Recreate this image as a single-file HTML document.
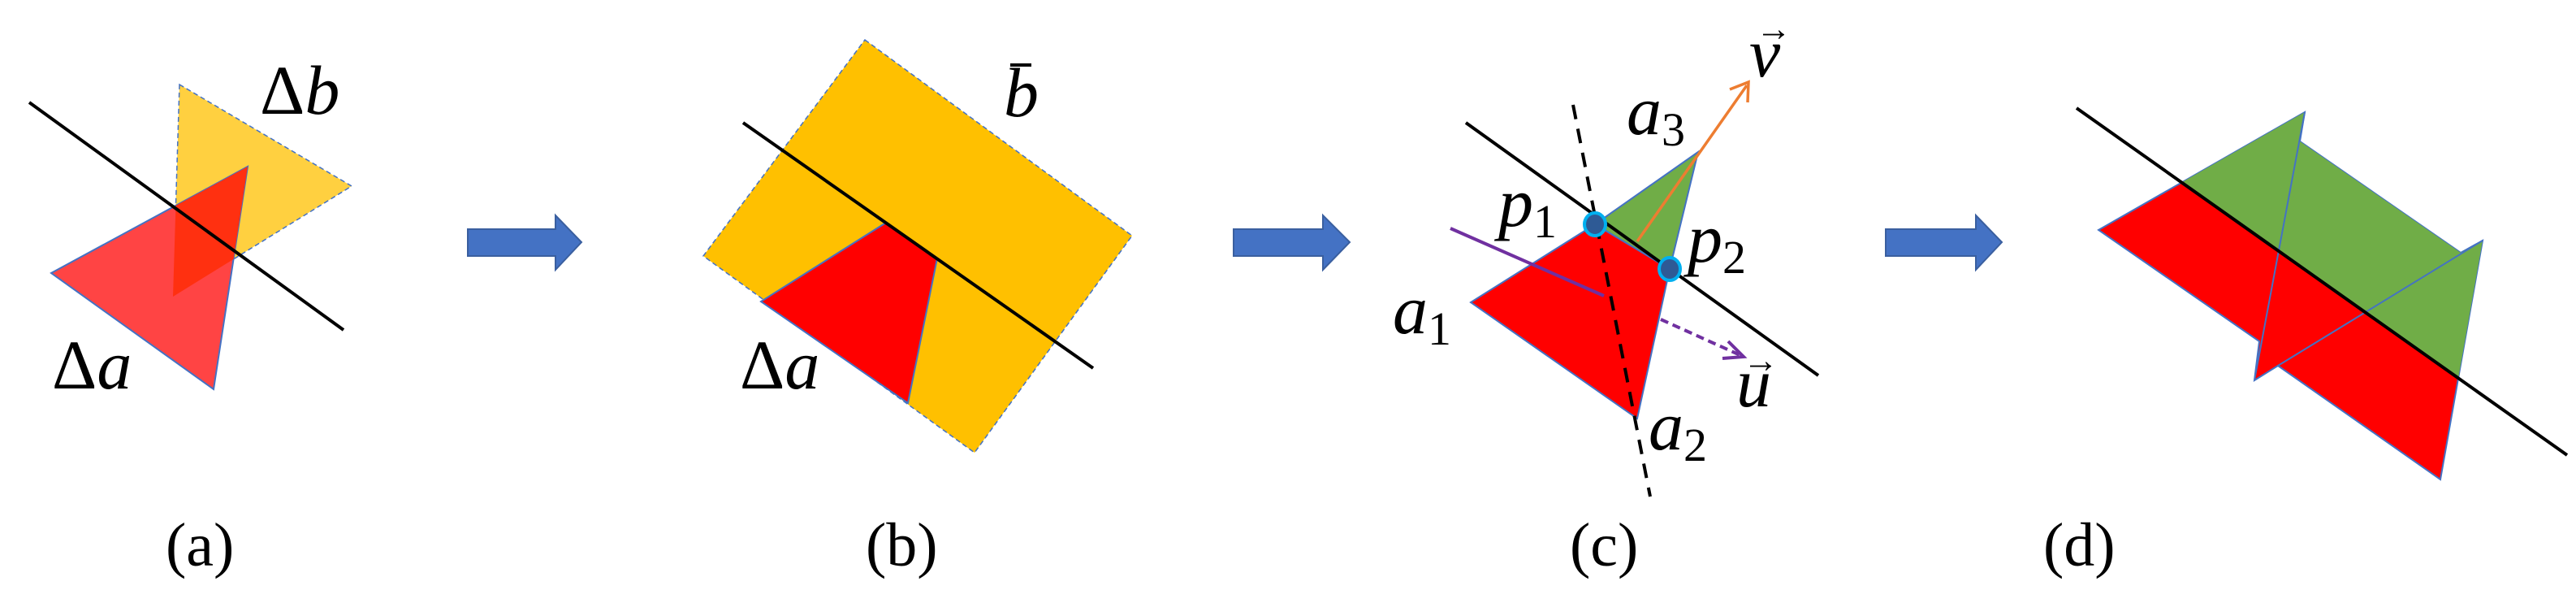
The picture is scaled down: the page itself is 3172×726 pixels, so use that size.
<!DOCTYPE html>
<html><head><meta charset="utf-8"><style>
html,body{margin:0;padding:0;background:#fff;}
svg{display:block;}
</style></head><body>
<svg width="3172" height="726" viewBox="0 0 3172 726" xmlns="http://www.w3.org/2000/svg" font-family="Liberation Serif, serif">
<defs>
<clipPath id="redA"><polygon points="63,336 305,205 263,479"/></clipPath>
<clipPath id="above"><polygon points="2400,22 3400,729 3400,-100 2400,-100"/></clipPath>
</defs>

<!-- Panel a -->
<polygon points="221,104 433,229 213,365" fill="#ffd040" stroke="#4472c4" stroke-width="1.5" stroke-dasharray="6,4"/>
<polygon points="63,336 305,205 263,479" fill="#ff4444" stroke="#4472c4" stroke-width="2"/>
<polygon points="221,104 433,229 213,365" fill="#ff3010" clip-path="url(#redA)"/>
<line x1="36" y1="126" x2="423" y2="406" stroke="#000" stroke-width="4"/>
<text x="320" y="140" font-size="86">Δ<tspan font-style="italic">b</tspan></text>
<text x="64" y="478" font-size="86">Δ<tspan font-style="italic">a</tspan></text>
<text x="204" y="696" font-size="76">(a)</text>

<!-- Arrow 1 -->
<polygon points="576,282 684,282 684,265 716,298 684,332 684,315 576,315" fill="#4472c4" stroke="#3a5f9f" stroke-width="2"/>

<!-- Panel b -->
<polygon points="1065,49 1394,290 1200,557 866,315" fill="#ffc000" stroke="#4472c4" stroke-width="1.5" stroke-dasharray="6,4"/>
<polygon points="1091,274 1154,318 1118,496 937,371" fill="#ff0000" stroke="#4472c4" stroke-width="2"/>
<line x1="915" y1="151" x2="1346" y2="453" stroke="#000" stroke-width="4"/>
<text x="1236" y="143" font-size="86" font-style="italic">b</text>
<line x1="1244" y1="80" x2="1270" y2="80" stroke="#000" stroke-width="4"/>
<text x="911" y="478" font-size="86">Δ<tspan font-style="italic">a</tspan></text>
<text x="1066" y="696" font-size="76">(b)</text>

<!-- Arrow 2 -->
<polygon points="1519,282 1629,282 1629,265 1662,298 1629,332 1629,315 1519,315" fill="#4472c4" stroke="#3a5f9f" stroke-width="2"/>

<!-- Panel c -->
<polygon points="1964,276 2091,187 2056,331" fill="#70ad47" stroke="#4472c4" stroke-width="2"/>
<polygon points="1964,276 2056,331 2016,515 1811,372" fill="#ff0000" stroke="#4472c4" stroke-width="2"/>
<line x1="1805" y1="151" x2="2239" y2="462" stroke="#000" stroke-width="4"/>
<line x1="1937" y1="129" x2="2032" y2="611" stroke="#000" stroke-width="4" stroke-dasharray="18,12"/>
<line x1="2016" y1="297" x2="2151" y2="105" stroke="#ed7d31" stroke-width="3.5"/>
<path d="M2130,110 L2153,101 L2152,126" fill="none" stroke="#ed7d31" stroke-width="3.5"/>
<line x1="1786" y1="281" x2="1975" y2="364" stroke="#7030a0" stroke-width="4"/>
<line x1="2045" y1="393" x2="2145" y2="438" stroke="#7030a0" stroke-width="4" stroke-dasharray="10,6"/>
<path d="M2128,420 L2147,439 L2121,441" fill="none" stroke="#7030a0" stroke-width="4"/>
<ellipse cx="1964" cy="276" rx="13" ry="14" fill="#2e5a95" stroke="#00b0f0" stroke-width="4"/>
<ellipse cx="2056" cy="331" rx="13" ry="14" fill="#2e5a95" stroke="#00b0f0" stroke-width="4"/>
<text x="2154" y="94" font-size="86" font-style="italic">v</text>
<text x="2162" y="50" font-size="44">→</text>
<text x="2003" y="165" font-size="86" font-style="italic">a<tspan font-size="58" font-style="normal" dy="14">3</tspan></text>
<text x="1845" y="278" font-size="86" font-style="italic">p<tspan font-size="58" font-style="normal" dy="14">1</tspan></text>
<text x="2078" y="322" font-size="86" font-style="italic">p<tspan font-size="58" font-style="normal" dy="14">2</tspan></text>
<text x="1715" y="410" font-size="86" font-style="italic">a<tspan font-size="58" font-style="normal" dy="14">1</tspan></text>
<text x="2138" y="500" font-size="86" font-style="italic">u</text>
<text x="2146" y="458" font-size="44">→</text>
<text x="2030" y="553" font-size="86" font-style="italic">a<tspan font-size="58" font-style="normal" dy="14">2</tspan></text>
<text x="1933" y="696" font-size="76">(c)</text>

<!-- Arrow 3 -->
<polygon points="2322,282 2433,282 2433,265 2465,298 2433,332 2433,315 2322,315" fill="#4472c4" stroke="#3a5f9f" stroke-width="2"/>

<!-- Panel d -->
<polygon points="2584,283 2838,138 2832,174 3030,311 3057,296 3005,590 2805,450 2776,468 2782,420" fill="#ff0000" stroke="#4472c4" stroke-width="2"/>
<polygon points="2584,283 2838,138 2832,174 3030,311 3057,296 3005,590 2805,450 2776,468 2782,420" fill="#70ad47" clip-path="url(#above)"/>
<g stroke="#4472c4" stroke-width="2" fill="none">
<line x1="2838" y1="138" x2="2776" y2="468"/>
<line x1="2805" y1="450" x2="3057" y2="296"/>
</g>
<line x1="2557" y1="133" x2="3161" y2="560" stroke="#000" stroke-width="4"/>
<text x="2516" y="696" font-size="76">(d)</text>
</svg>
</body></html>
